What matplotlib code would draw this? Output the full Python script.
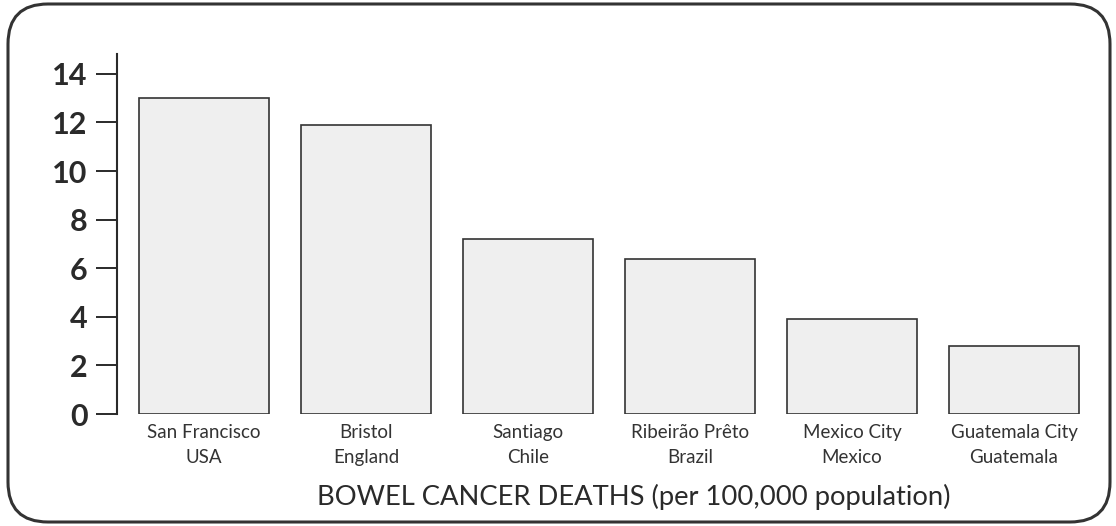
import matplotlib.pyplot as plt
from matplotlib.patches import FancyBboxPatch
import numpy as np

cities = ["San Francisco\nUSA", "Bristol\nEngland", "Santiago\nChile",
          "Ribeirão Prêto\nBrazil", "Mexico City\nMexico", "Guatemala City\nGuatemala"]
deaths = [13.0, 11.9, 7.2, 6.4, 3.9, 2.8]
yticks = [0, 2, 4, 6, 8, 10, 12, 14]
xlabel = "BOWEL CANCER DEATHS (per 100,000 population)"

fig = plt.figure(figsize=(11.16, 5.26), dpi=100)
ax = fig.add_axes([0.1048, 0.2129, 0.872, 0.6837])

x = np.arange(len(cities))
ax.bar(x, deaths, width=0.8, color="#efefef", edgecolor="#333333", linewidth=1.2)

ax.set_xlim(-0.537, 5.47)
ax.set_ylim(0, 14.8)
ax.set_yticks(yticks)
ax.set_yticklabels([str(t) for t in yticks], fontsize=22, fontfamily="Lato",
                   fontweight="bold", color="#2a2a2a")
ax.tick_params(axis="y", length=15, width=1.4, color="#2a2a2a", pad=6)

ax.set_xticks(x)
ax.set_xticklabels(cities, fontsize=13.5, fontfamily="Lato", color="#333333",
                   linespacing=1.6)
ax.tick_params(axis="x", length=0, pad=7)

for s in ["top", "right", "bottom"]:
    ax.spines[s].set_visible(False)
ax.spines["left"].set_linewidth(1.5)
ax.spines["left"].set_color("#2a2a2a")

fig.text(0.568, 0.055, xlabel, ha="center", va="center", fontsize=19.7,
         fontfamily="Lato", color="#2a2a2a")

# rounded frame around the whole chart
frame = FancyBboxPatch((0.08, 0.04), 11.02, 5.18,
                       boxstyle="round,pad=0,rounding_size=0.4",
                       transform=fig.dpi_scale_trans, facecolor="none",
                       edgecolor="#333333", linewidth=2.2)
fig.patches.append(frame)

fig.savefig("out.png", dpi=100)
